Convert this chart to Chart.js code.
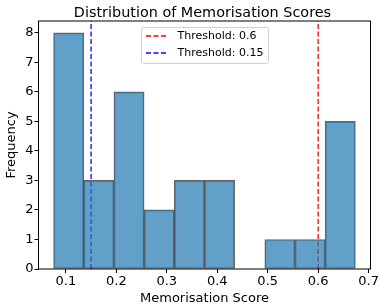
<!DOCTYPE html>
<html>
<head>
<meta charset="utf-8">
<script src="https://cdn.jsdelivr.net/npm/chart.js@4"></script>
<style>
  html, body { margin: 0; padding: 0; background: #fff; }
  #wrap { width: 380px; height: 307px; }
</style>
</head>
<body>
<div id="wrap"><canvas id="chart" width="380" height="307"></canvas></div>
<script>
// histogram bins (centres) and counts
const binCenters = [0.1056, 0.1654, 0.2252, 0.2850, 0.3448, 0.4046, 0.4644, 0.5242, 0.5840, 0.6438];
const counts = [8, 3, 6, 2, 3, 3, 0, 1, 1, 5];
const thresholds = [0.6, 0.15];
const thresholdLabels = ["Threshold: 0.6", "Threshold: 0.15"];
const thresholdColors = ["#ff0000", "#0000ff"];
const xTicks = [0.1, 0.2, 0.3, 0.4, 0.5, 0.6, 0.7];
const yTicks = [0, 1, 2, 3, 4, 5, 6, 7, 8];
const chartTitle = "Distribution of Memorisation Scores";

const FONT = "'DejaVu Sans', sans-serif";

// threshold lines as line datasets spanning the full y range
const thresholdSets = thresholds.map((t, i) => ({
  type: "line",
  label: thresholdLabels[i],
  data: [{ x: t, y: 0 }, { x: t, y: 8.4 }],
  borderColor: thresholdColors[i],
  borderWidth: 1.3,
  borderDash: [5, 2.5],
  pointRadius: 0,
  fill: false,
}));

// matplotlib-like frame, title and legend inside the axes
const framePlugin = {
  id: "frame",
  afterDatasetsDraw(chart) {
    const { ctx, chartArea: a } = chart;
    ctx.save();
    ctx.strokeStyle = "#000";
    ctx.lineWidth = 1;
    ctx.strokeRect(a.left, a.top, a.right - a.left, a.bottom - a.top);

    // title centred over the axes
    ctx.fillStyle = "#000";
    ctx.font = "14.4px " + FONT;
    ctx.textAlign = "center";
    ctx.textBaseline = "alphabetic";
    ctx.fillText(chartTitle, (a.left + a.right) / 2 - 2, 17.3);

    // legend
    const bx = 141.5, by = 27.5, bw = 127, bh = 36;
    ctx.fillStyle = "rgba(255,255,255,0.8)";
    ctx.strokeStyle = "#d0d0d0";
    ctx.beginPath();
    ctx.roundRect(bx, by, bw, bh, 2);
    ctx.fill();
    ctx.stroke();
    ctx.font = "11px " + FONT;
    ctx.textAlign = "left";
    ctx.textBaseline = "middle";
    thresholdSets.forEach((ds, i) => {
      const y = 36 + i * 17;
      ctx.strokeStyle = ds.borderColor;
      ctx.lineWidth = 1.3;
      ctx.setLineDash([5, 2.5]);
      ctx.beginPath();
      ctx.moveTo(146, y);
      ctx.lineTo(168, y);
      ctx.stroke();
      ctx.setLineDash([]);
      ctx.fillStyle = "#000";
      ctx.fillText(ds.label, 177.5, y);
    });
    ctx.restore();
  },
};

new Chart(document.getElementById("chart"), {
  type: "bar",
  data: {
    datasets: [
      {
        label: "Scores",
        data: binCenters.map((x, i) => ({ x, y: counts[i] })),
        backgroundColor: "rgba(31,119,180,0.7)",
        borderColor: "rgba(0,0,0,0.6)",
        borderWidth: 1,
        borderSkipped: false,
        barPercentage: 1,
        categoryPercentage: 1,
      },
      ...thresholdSets,
    ],
  },
  options: {
    responsive: false,
    animation: false,
    layout: { padding: { left: 0, right: 8, top: 21, bottom: 0 } },
    plugins: {
      legend: { display: false },
      tooltip: { enabled: false },
      title: { display: false },
    },
    scales: {
      x: {
        type: "linear",
        min: 0.0458,
        max: 0.7037,
        offset: false,
        afterBuildTicks: (s) => { s.ticks = xTicks.map((v) => ({ value: v })); },
        afterFit: (s) => { s.height = 38; },
        grid: { display: true, drawOnChartArea: false, drawTicks: true, tickLength: 4, color: "#000", offset: false },
        border: { display: false },
        ticks: {
          color: "#000",
          font: { family: FONT, size: 13 },
          padding: 1,
          maxRotation: 0,
          autoSkip: false,
          callback: (v) => v.toFixed(1),
        },
        title: {
          display: true,
          text: "Memorisation Score",
          color: "#000",
          font: { family: FONT, size: 13 },
          padding: { top: 0, bottom: 1 },
        },
      },
      y: {
        min: 0,
        max: 8.4,
        afterBuildTicks: (s) => { s.ticks = yTicks.map((v) => ({ value: v })); },
        afterFit: (s) => { s.width = 38.5; },
        grid: { display: true, drawOnChartArea: false, drawTicks: true, tickLength: 4, color: "#000" },
        border: { display: false },
        ticks: {
          color: "#000",
          font: { family: FONT, size: 13 },
          padding: 1,
          autoSkip: false,
        },
        title: {
          display: true,
          text: "Frequency",
          color: "#000",
          font: { family: FONT, size: 13 },
          padding: { top: 4, bottom: 0 },
        },
      },
    },
  },
  plugins: [framePlugin],
});
</script>
</body>
</html>
